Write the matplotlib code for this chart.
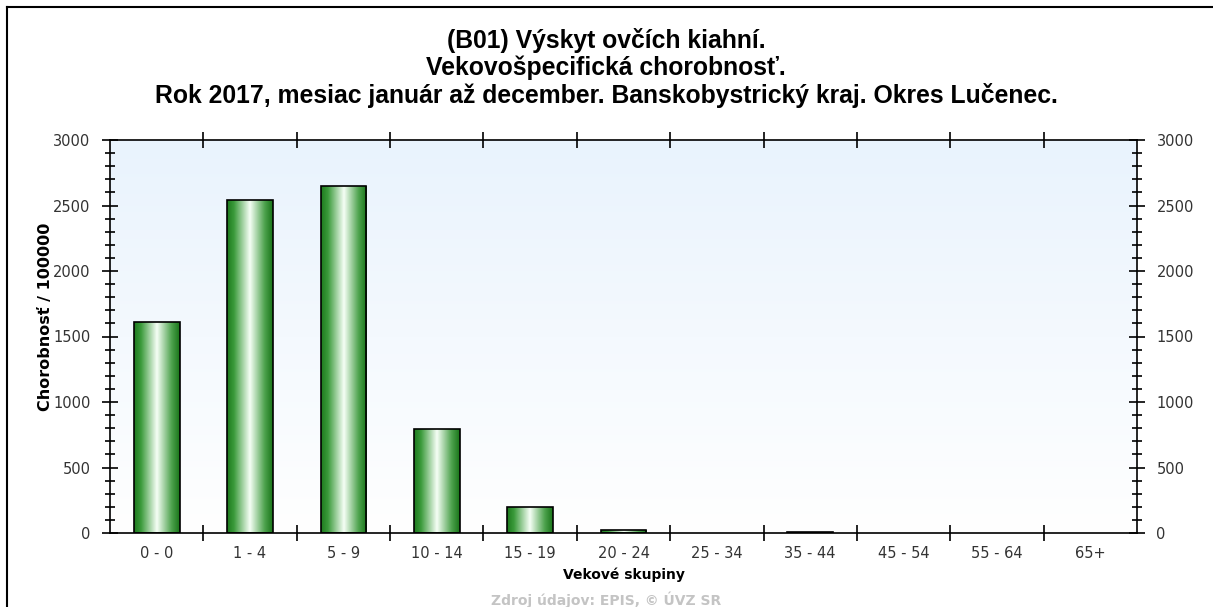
import numpy as np
import matplotlib
matplotlib.use("Agg")
import matplotlib.pyplot as plt
from matplotlib.colors import LinearSegmentedColormap
from matplotlib.lines import Line2D
from matplotlib.ticker import MultipleLocator, FixedLocator

age_groups = ["0 - 0", "1 - 4", "5 - 9", "10 - 14", "15 - 19", "20 - 24",
              "25 - 34", "35 - 44", "45 - 54", "55 - 64", "65+"]
morbidity = [1610, 2545, 2650, 795, 200, 25, 0, 10, 0, 0, 0]

title_lines = ["(B01) Výskyt ovčích kiahní.",
               "Vekovošpecifická chorobnosť.",
               "Rok 2017, mesiac január až december. Banskobystrický kraj. Okres Lučenec."]
y_label = "Chorobnosť / 100000"
x_label = "Vekové skupiny"
source = "Zdroj údajov: EPIS, © ÚVZ SR"

W, H = 1213, 607
fig = plt.figure(figsize=(W / 100, H / 100), dpi=100)
ax = fig.add_axes([110 / W, 1 - 533 / H, (1137 - 110) / W, (533 - 140) / H])

x = np.arange(len(age_groups))
ax.set_xlim(-0.5, len(age_groups) - 0.5)
ax.set_ylim(0, 3000)

# background gradient (light blue at top -> white at bottom)
bg = LinearSegmentedColormap.from_list("bg", ["#ffffff", "#e9f3fd"])
ax.imshow(np.linspace(0, 1, 256).reshape(-1, 1), cmap=bg, origin="lower",
          extent=[-0.5, len(age_groups) - 0.5, 0, 3000], aspect="auto", zorder=0)

# cylinder-like green bars
bar_cmap = LinearSegmentedColormap.from_list(
    "cyl", [(0, "#1e7a1e"), (0.15, "#3a9a3a"), (0.5, "#f6fff6"),
            (0.82, "#4ea34e"), (1, "#187418")])
grad = np.linspace(0, 1, 256).reshape(1, -1)
bars = ax.bar(x, morbidity, width=0.49, facecolor="none", edgecolor="black",
              linewidth=1.2, zorder=3)
for b in bars:
    if b.get_height() <= 0:
        b.set_visible(False)
        continue
    im = ax.imshow(grad, cmap=bar_cmap, aspect="auto", zorder=2,
                   extent=[b.get_x(), b.get_x() + b.get_width(), 0, b.get_height()])
    im.set_clip_path(b)
ax.set_xlim(-0.5, len(age_groups) - 0.5)
ax.set_ylim(0, 3000)

# ticks
ax.set_xticks(x)
ax.set_xticklabels(age_groups, fontsize=10.5, color="#333333", family="DejaVu Sans")
ax.xaxis.set_minor_locator(FixedLocator(np.arange(0.5, len(age_groups) - 0.5, 1)))
ax.tick_params(axis="x", which="major", length=0, pad=9)
ax.tick_params(axis="x", which="minor", direction="inout", length=12, width=1.2,
               top=True, bottom=True)
ax.yaxis.set_major_locator(MultipleLocator(500))
ax.yaxis.set_minor_locator(MultipleLocator(100))
ax.tick_params(axis="y", which="major", direction="inout", length=12, width=1.2,
               labelsize=10.5, labelcolor="#333333", left=True, right=True,
               labelleft=True, labelright=True, pad=8)
ax.tick_params(axis="y", which="minor", direction="inout", length=7, width=1.2,
               left=True, right=True)

for s in ax.spines.values():
    s.set_linewidth(1.2)

fig.text(46 / W, 1 - 317 / H, y_label, ha="center", va="center", rotation=90,
         fontsize=11.5, fontweight="bold", family="DejaVu Sans")
fig.text(624 / W, 1 - 575 / H, x_label, ha="center", va="center",
         fontsize=10, fontweight="bold", family="DejaVu Sans")
fig.text(606 / W, 1 - 592 / H, source, ha="center", va="top",
         fontsize=10, fontweight="bold", color="#c4c4c4", family="DejaVu Sans")

for yb, line in zip([48, 75, 103], title_lines):
    fig.text(606 / W, 1 - yb / H, line, ha="center", va="baseline",
             fontsize=17.8, fontweight="bold", family="Liberation Sans")

# outer frame (left and top edges visible)
fig.add_artist(Line2D([7 / W, 7 / W], [0, 1 - 7 / H], color="black", lw=1.5,
                      transform=fig.transFigure))
fig.add_artist(Line2D([7 / W, 1], [1 - 7 / H, 1 - 7 / H], color="black", lw=1.5,
                      transform=fig.transFigure))

fig.savefig("out.png", dpi=100)
